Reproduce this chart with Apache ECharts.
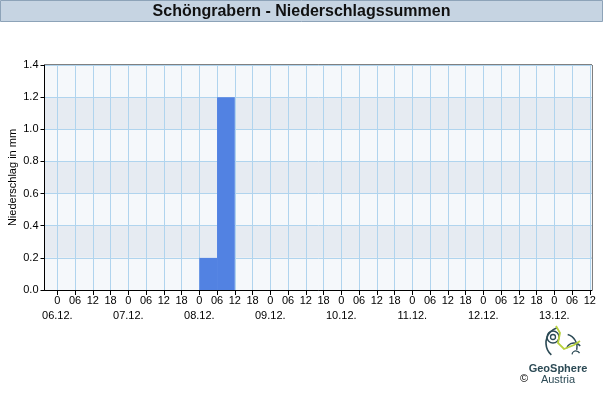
<!DOCTYPE html>
<html>
<head>
<meta charset="utf-8">
<script src="https://cdn.jsdelivr.net/npm/echarts@6/dist/echarts.min.js"></script>
<style>html,body{margin:0;padding:0;background:#fff}#c{width:603px;height:400px}</style>
</head>
<body>
<div id="c"></div>
<script>
// hours since 06.12. 00:00
var dayLabels = ['06.12.', '07.12.', '08.12.', '09.12.', '10.12.', '11.12.', '12.12.', '13.12.'];
var hourLabels = ['0', '06', '12', '18'];
var tickHours = [];
for (var h = 0; h <= 180; h += 6) tickHours.push(h);
var dayHours = [0, 24, 48, 72, 96, 120, 144, 168];
var yTicks = [0, 0.2, 0.4, 0.6, 0.8, 1.0, 1.2, 1.4];
// 6-hourly precipitation sums
var barStart = [48, 54];
var barEnd = [54, 60];
var barValue = [0.2, 1.2];

var font = '"Liberation Sans", Arial, sans-serif';
var chart = echarts.init(document.getElementById('c'), null, {renderer: 'canvas'});
var barData = barStart.map(function (s, i) { return [s, barEnd[i], barValue[i]]; });
var xMin = -4.33, xMax = 180.75;

chart.setOption({
  animation: false,
  grid: {left: 44.5, right: 11, top: 65, bottom: 110, show: true, borderColor: '#000', borderWidth: 1, backgroundColor: 'transparent', containLabel: false, outerBoundsMode: 'none'},
  xAxis: [{
    type: 'value', min: xMin, max: xMax,
    axisLine: {onZero: false, lineStyle: {color: '#000'}},
    axisTick: {customValues: tickHours, length: 5, lineStyle: {color: '#000'}},
    axisLabel: {
      customValues: tickHours, color: '#000', fontFamily: font, fontSize: 11, margin: 5,
      hideOverlap: false, showMinLabel: true, showMaxLabel: true,
      formatter: function (v) { return hourLabels[(((v % 24) + 24) % 24) / 6]; }
    },
    splitLine: {show: true, lineStyle: {color: '#b0d4ee', width: 1}}
  }, {
    type: 'value', min: xMin, max: xMax, position: 'bottom',
    axisLine: {show: false}, axisTick: {show: false}, splitLine: {show: false},
    axisLabel: {
      customValues: dayHours, color: '#000', fontFamily: font, fontSize: 11, margin: 20,
      hideOverlap: false, showMinLabel: true, showMaxLabel: true,
      formatter: function (v) { return dayLabels[v / 24]; }
    }
  }],
  yAxis: {
    type: 'value', min: 0, max: 1.4, interval: 0.2,
    name: 'Niederschlag in mm', nameLocation: 'middle', nameGap: 26, nameMoveOverlap: false,
    nameTextStyle: {color: '#000', fontFamily: font, fontSize: 11},
    axisLine: {show: true, onZero: false, lineStyle: {color: '#000'}},
    axisTick: {show: true, length: 4, lineStyle: {color: '#000'}},
    axisLabel: {color: '#000', fontFamily: font, fontSize: 11, margin: 6, formatter: function (v) { return v.toFixed(1); }},
    splitLine: {show: true, lineStyle: {color: '#b0d4ee', width: 1}},
    splitArea: {show: true, areaStyle: {color: ['#f5f8fb', '#e6ebf2']}}
  },
  series: [{
    type: 'custom',
    data: barData,
    renderItem: function (params, api) {
      var p0 = api.coord([api.value(0), 0]);
      var p1 = api.coord([api.value(1), api.value(2)]);
      return {type: 'rect', shape: {x: p0[0], y: p1[1], width: p1[0] - p0[0], height: p0[1] - p1[1]}, style: {fill: '#5282e2'}};
    },
    z: 3
  }],
  graphic: [
    {type: 'rect', shape: {x: 0.5, y: 0.5, width: 602, height: 21}, style: {fill: '#c6d4e2', stroke: '#8da3b8', lineWidth: 1}, z: 10},
    {type: 'text', x: 301.5, y: 11.5, style: {text: 'Schöngrabern - Niederschlagssummen', fill: '#111', font: 'bold 16px ' + font, textAlign: 'center', textVerticalAlign: 'middle'}, z: 11},
    {type: 'group', x: 562, y: 343, children: [
      {type: 'arc', shape: {cx: 0, cy: 0, r: 16, startAngle: 2.3, endAngle: 4.4}, style: {stroke: '#2c4a55', lineWidth: 1.6, fill: null}},
      {type: 'arc', shape: {cx: -9, cy: -6, r: 6, startAngle: 0, endAngle: 6.28}, style: {stroke: '#2c4a55', lineWidth: 1.4, fill: null}},
      {type: 'arc', shape: {cx: -9, cy: -6, r: 2.5, startAngle: 0, endAngle: 6.28}, style: {stroke: '#2c4a55', lineWidth: 1.3, fill: null}},
      {type: 'arc', shape: {cx: 12, cy: 8, r: 8, startAngle: 3.5, endAngle: 5.6}, style: {stroke: '#2c4a55', lineWidth: 1.4, fill: null}},
      {type: 'arc', shape: {cx: 14, cy: 12, r: 4, startAngle: 3.3, endAngle: 5.8}, style: {stroke: '#2c4a55', lineWidth: 1.3, fill: null}},
      {type: 'arc', shape: {cx: 2, cy: 4, r: 13, startAngle: 5.0, endAngle: 6.5}, style: {stroke: '#2c4a55', lineWidth: 1.4, fill: null}},
      {type: 'polyline', shape: {points: [[-6, -17], [-2, -10], [-4, 0], [2, 6], [12, 2], [18, -2]]}, style: {stroke: '#b8d23c', lineWidth: 1.8, fill: null}}
    ], z: 10},
    {type: 'text', x: 558, y: 369, style: {text: 'GeoSphere', fill: '#2c4a55', font: 'bold 11px ' + font, textAlign: 'center', textVerticalAlign: 'middle'}, z: 10},
    {type: 'text', x: 558, y: 380, style: {text: 'Austria', fill: '#2c4a55', font: '11px ' + font, textAlign: 'center', textVerticalAlign: 'middle'}, z: 10},
    {type: 'text', x: 524, y: 379, style: {text: '©', fill: '#000', font: '11px ' + font, textAlign: 'center', textVerticalAlign: 'middle'}, z: 10}
  ]
});
</script>
</body>
</html>
